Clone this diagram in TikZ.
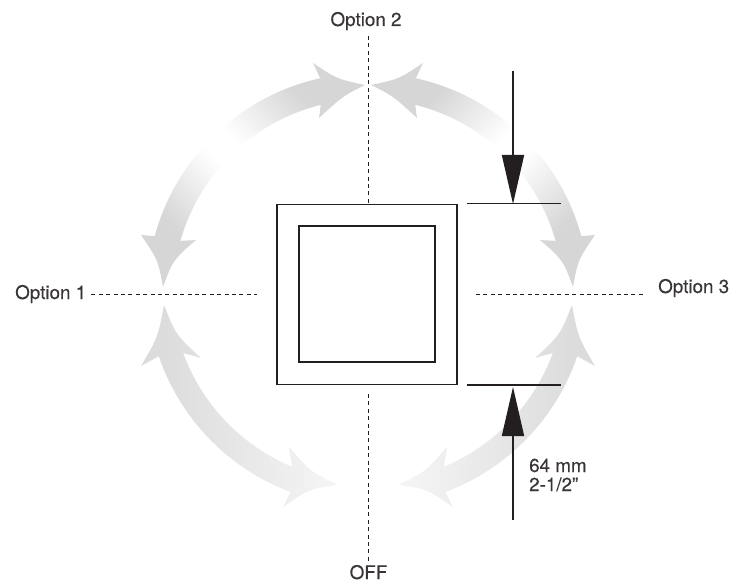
\documentclass[tikz,border=0pt]{standalone}
\usepackage{fontspec}
\setmainfont{TeX Gyre Heros}
\newfontfamily\labelfont[FakeBold=0.3]{TeX Gyre Heros}
\usetikzlibrary{arrows.meta}
\usetikzlibrary{calc}

\definecolor{ringgray}{HTML}{D6D6D6}
\definecolor{lowgray}{HTML}{DCDCDC}
\definecolor{lowpale}{HTML}{FAFAFA}
\definecolor{inkgray}{HTML}{231F20}

\pgfdeclareverticalshading{ringfade}{100bp}{color(0bp)=(ringgray); color(30bp)=(ringgray); color(47bp)=(white); color(53bp)=(white); color(70bp)=(ringgray); color(100bp)=(ringgray)}
\pgfdeclarehorizontalshading{lowfadeR}{100bp}{color(0bp)=(lowpale); color(25bp)=(lowpale); color(70bp)=(lowgray); color(100bp)=(lowgray)}
\pgfdeclarehorizontalshading{lowfadeL}{100bp}{color(0bp)=(lowgray); color(30bp)=(lowgray); color(75bp)=(lowpale); color(100bp)=(lowpale)}

\tikzset{
	textlabel/.style={font=\labelfont\fontsize{18.8}{19}\selectfont,text=inkgray!90,inner sep=0pt},
	guide/.style={draw=inkgray,line width=0.9pt,dash pattern=on 4pt off 3.4pt},
	plate/.style={draw=inkgray,line width=1.6pt,inner sep=0pt},
	dimline/.style={draw=inkgray,line width=1.7pt},
	dimarrow/.style={dimline,-{Triangle[width=22pt,length=49pt]}}
}

\begin{document}
\begin{tikzpicture}[x=1pt,y=1pt]

	\useasboundingbox (0,0) rectangle (744,582);

	% upper ring arrows
	\shade[shading=ringfade,shading angle=45] (368,288) ++(77.5:221) arc[start angle=77.5,end angle=15.2,radius=221pt]
		-- (595,347) .. controls (578,322) .. (573,295) .. controls (563,322) .. (540,342)
		-- ($(368,288)+(15.8:195)$) arc[start angle=15.8,end angle=76,radius=195pt]
		-- (417,464) .. controls (393,486) .. (371,497) .. controls (399,503) .. (423,519) -- cycle;
	\shade[shading=ringfade,shading angle=-45] (368,288) ++(102.5:221) arc[start angle=102.5,end angle=164.8,radius=221pt]
		-- (141,347) .. controls (158,322) .. (163,295) .. controls (173,322) .. (196,342)
		-- ($(368,288)+(164.2:195)$) arc[start angle=164.2,end angle=104,radius=195pt]
		-- (319,464) .. controls (343,486) .. (365,497) .. controls (337,503) .. (313,519) -- cycle;

	% lower ring arrows
	\shade[shading=lowfadeR] (368,297) ++(-18.8:221) arc[start angle=-18.8,end angle=-69.5,radius=221pt]
		-- (453,75) .. controls (427,93) .. (398,97) .. controls (425,110) .. (447,135)
		-- ($(368,297)+(-67.3:197)$) arc[start angle=-67.3,end angle=-20.2,radius=197pt]
		-- (535,224) .. controls (560,247) .. (572,277) .. controls (578,245) .. (595,216) -- cycle;
	\shade[shading=lowfadeL] (368,297) ++(-161.2:221) arc[start angle=-161.2,end angle=-110.5,radius=221pt]
		-- (283,75) .. controls (309,93) .. (338,97) .. controls (311,110) .. (289,135)
		-- ($(368,297)+(-112.7:197)$) arc[start angle=-112.7,end angle=-159.8,radius=197pt]
		-- (201,224) .. controls (176,247) .. (164,277) .. controls (158,245) .. (141,216) -- cycle;

	% switch plate
	\node[plate,minimum width=180.5pt,minimum height=180pt] (outerbox) at (367,287.5) {};
	\node[plate,minimum width=136.5pt,minimum height=135.5pt] (innerbox) at (367,288) {};

	\node[textlabel,anchor=base] (optiontwo) at (366,556) {Option 2};
	\node[textlabel,anchor=base] (offlabel) at (368.5,3) {OFF};
	\node[textlabel,anchor=base west] (optionone) at (15,283) {Option 1};
	\node[textlabel,anchor=base west] (optionthree) at (658,289) {Option 3};
	\node[textlabel,anchor=north west,align=left] (sizelabel) at (529,123.5) {64 mm\\2-1/2”};

	% guides
	\coordinate (twotop) at (368,546);
	\coordinate (offtop) at (368,188);
	\coordinate (offend) at (368,21);
	\coordinate (oneend) at (257,288);
	\coordinate (threestart) at (476,288);
	\coordinate (threeend) at (643,288);
	\draw[guide] (twotop) -- (twotop |- outerbox.north);
	\draw[guide] (offtop) -- (offend);
	\draw[guide] (optionone.east |- oneend) ++(5,0) -- (oneend);
	\draw[guide] (threestart) -- (threeend);

	% dimension
	\coordinate (dimtop) at (513,511);
	\coordinate (dimtoptip) at (513,378);
	\coordinate (dimbottom) at (513,62);
	\coordinate (dimbottomtip) at (513,195);
	\coordinate (ticktop) at (467,378.5);
	\coordinate (tickbottom) at (467,197);
	\draw[dimline] (ticktop) -- ++(94,0);
	\draw[dimline] (tickbottom) -- ++(94,0);
	\draw[dimarrow] (dimtop) -- (dimtoptip);
	\draw[dimarrow] (dimbottom) -- (dimbottomtip);

\end{tikzpicture}
\end{document}
